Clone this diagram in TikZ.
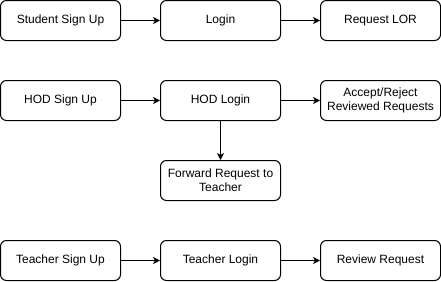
\documentclass[tikz,border=0pt]{standalone}
\usepackage{fontspec}
\setmainfont{Liberation Sans}
\usetikzlibrary{arrows.meta}
\begin{document}
\begin{tikzpicture}[x=1pt,y=-1pt,
  box/.style={draw, line width=1pt, rounded corners=6pt, minimum width=120pt, minimum height=40pt, inner sep=0pt, align=center, font=\fontsize{12pt}{14pt}\selectfont, fill=white},
  conn/.style={line width=1pt, -{Stealth[length=7pt,width=7pt,inset=2pt]}}]
\useasboundingbox (0,0) rectangle (441,281);
\node[box] (ssu) at (60.5,20.5) {Student Sign Up};
\node[box] (lg) at (220.5,20.5) {Login};
\node[box] (lor) at (380.5,20.5) {Request LOR};
\node[box] (hsu) at (60.5,100.5) {HOD Sign Up};
\node[box] (hlg) at (220.5,100.5) {HOD Login};
\node[box] (acc) at (380.5,100.5) {Accept/Reject\\Reviewed Requests};
\node[box] (fwd) at (220.5,180.5) {Forward Request to\\Teacher};
\node[box] (tsu) at (60.5,260.5) {Teacher Sign Up};
\node[box] (tlg) at (220.5,260.5) {Teacher Login};
\node[box] (rr) at (380.5,260.5) {Review Request};
\draw[conn] (ssu) -- (lg);
\draw[conn] (lg) -- (lor);
\draw[conn] (hsu) -- (hlg);
\draw[conn] (hlg) -- (acc);
\draw[conn] (hlg) -- (fwd);
\draw[conn] (tsu) -- (tlg);
\draw[conn] (tlg) -- (rr);
\end{tikzpicture}
\end{document}
